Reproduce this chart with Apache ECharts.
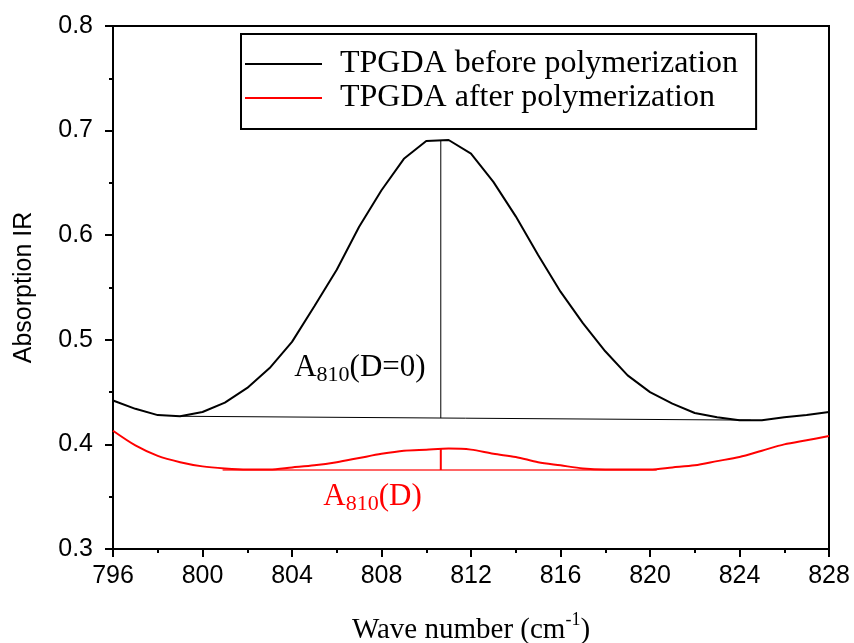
<!DOCTYPE html>
<html>
<head>
<meta charset="utf-8">
<script src="https://cdn.jsdelivr.net/npm/echarts@6/dist/echarts.min.js"></script>
<style>html,body{margin:0;padding:0;background:#fff}#c{width:854px;height:643px}</style>
</head>
<body>
<div id="c"></div>
<script>
var waveNumbers = [796,797,798,799,800,801,802,803,804,805,806,807,808,809,810,811,812,813,814,815,816,817,818,819,820,821,822,823,824,825,826,827,828];
var beforePoly = [0.442,0.434,0.428,0.427,0.431,0.440,0.454,0.473,0.498,0.532,0.567,0.608,0.643,0.673,0.690,0.691,0.678,0.651,0.618,0.581,0.546,0.516,0.489,0.466,0.450,0.439,0.430,0.426,0.423,0.423,0.426,0.428,0.431];
var afterPoly = [0.413,0.399,0.389,0.383,0.379,0.377,0.376,0.376,0.378,0.380,0.383,0.387,0.391,0.394,0.395,0.396,0.395,0.391,0.388,0.383,0.380,0.377,0.376,0.376,0.376,0.378,0.380,0.384,0.388,0.394,0.400,0.404,0.408];
var blackBaseline = [[799, 0.4269], [824.5, 0.4232]];
var blackPeakLine = [[810.65, 0.691], [810.65, 0.4252]];
var redBaseline = [[800.9, 0.3755], [820.3, 0.3755]];
var redPeakLine = [[810.65, 0.3962], [810.65, 0.3755]];
var labelBefore = [[804.1, 0.473]];
var labelAfter = [[805.4, 0.3497]];
var seriesNames = ['TPGDA before polymerization', 'TPGDA after polymerization'];

function pairs(xs, ys){ return xs.map(function(x,i){ return [x, ys[i]]; }); }

var serif = 'Liberation Serif, Times New Roman, serif';
var sans = 'Liberation Sans, Arial, sans-serif';

var chart = echarts.init(document.getElementById('c'), null, {renderer:'canvas'});
chart.setOption({
  animation: false,
  backgroundColor: '#fff',
  grid: { left: 113, right: 25, top: 26, bottom: 94, outerBoundsMode: 'none', containLabel: false, show: true, borderColor: '#000', borderWidth: 2, backgroundColor: 'transparent' },
  legend: {
    data: seriesNames,
    orient: 'vertical',
    left: 241, top: 34,
    padding: [14, 18, 15, 4],
    itemGap: 2,
    itemWidth: 77, itemHeight: 2,
    icon: 'rect',
    borderColor: '#000', borderWidth: 2,
    textStyle: { fontFamily: serif, fontSize: 32, color: '#000', padding: [0,0,0,13] }
  },
  xAxis: {
    type: 'value', min: 796, max: 828, interval: 4,
    name: '{a|Wave number (cm}{s|-1}{a|)}',
    nameLocation: 'middle', nameGap: 62,
    nameTextStyle: { rich: {
      a: { fontFamily: serif, fontSize: 29, color: '#000', lineHeight: 34, verticalAlign: 'bottom' },
      s: { fontFamily: serif, fontSize: 18, color: '#000', lineHeight: 18, verticalAlign: 'top' }
    } },
    axisLine: { lineStyle: { color: '#000', width: 2 } },
    axisTick: { inside: false, length: 8, lineStyle: { color: '#000', width: 2 } },
    minorTick: { show: true, splitNumber: 2, length: 4, lineStyle: { color: '#000', width: 2 } },
    splitLine: { show: false },
    axisLabel: { fontFamily: sans, fontSize: 25, color: '#000', margin: 15 }
  },
  yAxis: {
    type: 'value', min: 0.3, max: 0.8, interval: 0.1,
    name: 'Absorption IR', nameLocation: 'middle', nameGap: 76,
    nameTextStyle: { fontFamily: sans, fontSize: 25, color: '#000' },
    axisLine: { show: true, lineStyle: { color: '#000', width: 2 } },
    axisTick: { show: true, inside: false, length: 8, lineStyle: { color: '#000', width: 2 } },
    minorTick: { show: true, splitNumber: 2, length: 4, lineStyle: { color: '#000', width: 2 } },
    splitLine: { show: false },
    axisLabel: { fontFamily: sans, fontSize: 25, color: '#000', margin: 20, formatter: function(v){ return v.toFixed(1); } }
  },
  series: [
    { name: seriesNames[0], type: 'line', data: pairs(waveNumbers, beforePoly), showSymbol: false, symbol: 'none', lineStyle: { color: '#000', width: 2 }, itemStyle: { color: '#000' }, z: 3 },
    { name: seriesNames[1], type: 'line', data: pairs(waveNumbers, afterPoly), showSymbol: false, symbol: 'none', smooth: 0.3, lineStyle: { color: '#ff0000', width: 2 }, itemStyle: { color: '#ff0000' }, z: 3 },
    { name: 'bBase', type: 'line', data: blackBaseline, symbol: 'none', lineStyle: { color: '#000', width: 1 }, z: 2 },
    { name: 'bPeak', type: 'line', data: blackPeakLine, symbol: 'none', lineStyle: { color: '#000', width: 1 }, z: 2 },
    { name: 'rBase', type: 'line', data: redBaseline, symbol: 'none', lineStyle: { color: '#ff3333', width: 1.5 }, z: 2 },
    { name: 'rPeak', type: 'line', data: redPeakLine, symbol: 'none', lineStyle: { color: '#ff0000', width: 2 }, z: 2 },
    { name: 'lblB', type: 'scatter', data: labelBefore, symbolSize: 0, silent: true, itemStyle: { opacity: 1 },
      label: { show: true, position: [0, 0], align: 'left', verticalAlign: 'middle', opacity: 1,
        formatter: '{a|A}{s|810}{a|(D=0)}',
        rich: {
          a: { fontFamily: serif, fontSize: 31, color: '#000', lineHeight: 31, verticalAlign: 'top' },
          s: { fontFamily: serif, fontSize: 22, color: '#000', lineHeight: 22, verticalAlign: 'top', padding: [12,0,0,0] }
        } } },
    { name: 'lblA', type: 'scatter', data: labelAfter, symbolSize: 0, silent: true, itemStyle: { opacity: 1 },
      label: { show: true, position: [0, 0], align: 'left', verticalAlign: 'middle', opacity: 1,
        formatter: '{a|A}{s|810}{a|(D)}',
        rich: {
          a: { fontFamily: serif, fontSize: 31, color: '#ff0000', lineHeight: 31, verticalAlign: 'top' },
          s: { fontFamily: serif, fontSize: 22, color: '#ff0000', lineHeight: 22, verticalAlign: 'top', padding: [12,0,0,0] }
        } } }
  ]
});
</script>
</body>
</html>
